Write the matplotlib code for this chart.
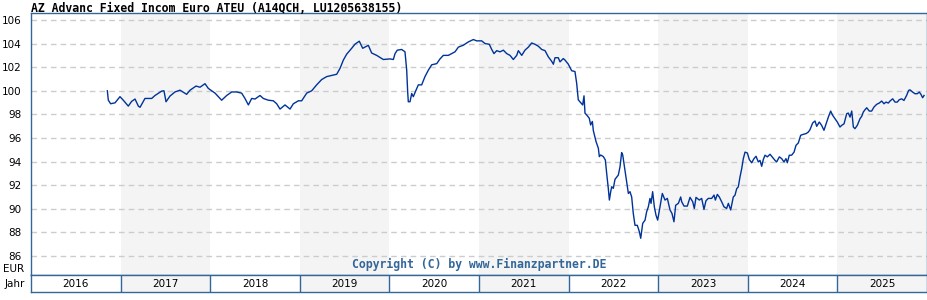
import matplotlib
matplotlib.use("Agg")
import matplotlib.pyplot as plt

# fund price in EUR, x as decimal year
years = [
    2016.852, 2016.863, 2016.889, 2016.938, 2016.993, 2017.030, 2017.086, 2017.123, 2017.161, 2017.198,
    2017.217, 2017.272, 2017.347, 2017.384, 2017.458, 2017.484, 2017.507, 2017.551, 2017.607, 2017.663,
    2017.737, 2017.775, 2017.842, 2017.886, 2017.942, 2017.979, 2018.016, 2018.054, 2018.091, 2018.128,
    2018.184, 2018.240, 2018.295, 2018.351, 2018.388, 2018.426, 2018.463, 2018.500, 2018.556, 2018.593,
    2018.649, 2018.705, 2018.742, 2018.779, 2018.835, 2018.891, 2018.928, 2018.984, 2019.021, 2019.077,
    2019.133, 2019.188, 2019.244, 2019.300, 2019.356, 2019.412, 2019.449, 2019.486, 2019.523, 2019.579,
    2019.616, 2019.664, 2019.702, 2019.765, 2019.802, 2019.858, 2019.932, 2020.007,
    2020.044, 2020.063, 2020.088, 2020.137, 2020.174, 2020.193, 2020.204, 2020.211, 2020.230, 2020.249,
    2020.267, 2020.297, 2020.323, 2020.360, 2020.397, 2020.435, 2020.472, 2020.528, 2020.565, 2020.602,
    2020.658, 2020.695, 2020.732, 2020.770, 2020.825, 2020.881, 2020.937, 2020.974, 2021.030, 2021.067,
    2021.115, 2021.142, 2021.167, 2021.198, 2021.234, 2021.272, 2021.309, 2021.346, 2021.383, 2021.421,
    2021.439, 2021.477, 2021.513, 2021.551, 2021.588, 2021.625, 2021.663, 2021.700, 2021.737, 2021.774,
    2021.811, 2021.830, 2021.848, 2021.885, 2021.904, 2021.941, 2021.960, 2021.997,
    2022.034, 2022.071, 2022.090, 2022.108, 2022.135, 2022.157, 2022.172, 2022.183, 2022.202, 2022.231,
    2022.246, 2022.265, 2022.276, 2022.306, 2022.332, 2022.343, 2022.358, 2022.388, 2022.410, 2022.425,
    2022.443, 2022.455, 2022.470, 2022.481, 2022.499, 2022.518, 2022.555, 2022.574, 2022.592, 2022.604,
    2022.629, 2022.648, 2022.667, 2022.685, 2022.704, 2022.722, 2022.741, 2022.767, 2022.790, 2022.805,
    2022.827, 2022.853, 2022.871, 2022.890, 2022.908, 2022.920, 2022.938, 2022.957, 2022.975, 2022.994,
    2023.020, 2023.046, 2023.076, 2023.102, 2023.132, 2023.154, 2023.176, 2023.195, 2023.225, 2023.251,
    2023.262, 2023.288, 2023.325, 2023.355, 2023.385, 2023.403, 2023.422, 2023.459, 2023.485, 2023.511,
    2023.533, 2023.559, 2023.597, 2023.623, 2023.638, 2023.660, 2023.682, 2023.708, 2023.734, 2023.764,
    2023.783, 2023.809,
    2023.820, 2023.838, 2023.857, 2023.876, 2023.894, 2023.913, 2023.932, 2023.950, 2023.969, 2023.995,
    2024.017, 2024.043, 2024.069, 2024.092, 2024.117, 2024.136, 2024.155, 2024.173, 2024.192, 2024.218,
    2024.248, 2024.278, 2024.304, 2024.322, 2024.352, 2024.378, 2024.404, 2024.426, 2024.441, 2024.463,
    2024.489, 2024.516, 2024.538, 2024.564, 2024.590, 2024.620, 2024.650, 2024.675, 2024.694, 2024.724,
    2024.750, 2024.769, 2024.798, 2024.824, 2024.850, 2024.880, 2024.899, 2024.925, 2024.947, 2024.973,
    2024.999, 2025.029, 2025.048, 2025.074, 2025.104, 2025.122, 2025.141, 2025.160, 2025.178, 2025.196,
    2025.222, 2025.252, 2025.271, 2025.289, 2025.308, 2025.327, 2025.356, 2025.382, 2025.408, 2025.438,
    2025.467, 2025.494, 2025.520, 2025.542, 2025.568, 2025.587, 2025.617, 2025.643, 2025.668, 2025.690,
    2025.717, 2025.743, 2025.772, 2025.795, 2025.810, 2025.840, 2025.866, 2025.891, 2025.914, 2025.933,
    2025.951, 2025.967,
]
prices = [
    100.0, 99.2, 98.9, 98.98, 99.5, 99.2, 98.7, 99.1, 99.3, 98.7,
    98.6, 99.35, 99.35, 99.6, 99.97, 100.0, 99.07, 99.55, 99.9, 100.05,
    99.7, 100.05, 100.4, 100.3, 100.6, 100.2, 100.0, 99.8, 99.5, 99.2,
    99.6, 99.9, 99.9, 99.8, 99.35, 98.8, 99.35, 99.3, 99.6, 99.35,
    99.2, 99.15, 98.9, 98.45, 98.8, 98.45, 98.9, 99.15, 99.15, 99.8,
    100.0, 100.5, 100.95, 101.2, 101.3, 101.4, 101.9, 102.6, 103.1, 103.6,
    103.95, 104.2, 103.6, 103.85, 103.2, 103.0, 102.65, 102.7,
    102.65, 103.15, 103.44, 103.5, 103.3, 101.75, 99.9, 99.07, 99.07, 99.77,
    99.5, 100.05, 100.5, 100.5, 101.2, 101.75, 102.2, 102.3, 102.7, 103.0,
    103.0, 103.15, 103.3, 103.7, 103.86, 104.14, 104.34, 104.23, 104.23, 104.0,
    103.94, 103.5, 103.15, 103.4, 103.3, 103.44, 103.15, 103.0, 102.65, 103.0,
    103.4, 103.0, 103.44, 103.7, 104.05, 103.94, 103.77, 103.5, 103.4, 102.87,
    102.5, 102.25, 102.8, 102.8, 102.45, 102.73, 102.6, 102.25,
    101.7, 101.63, 100.64, 99.23, 99.0, 98.8, 99.57, 98.1, 97.95, 97.67,
    97.1, 97.4, 96.63, 95.7, 95.13, 94.42, 94.56, 94.42, 94.14, 93.0,
    91.73, 90.74, 91.45, 91.87, 91.73, 92.5, 92.86, 93.57, 94.76, 94.56,
    93.29, 92.3, 91.3, 91.45, 91.0, 89.6, 88.6, 88.6, 88.05, 87.5,
    88.76, 89.04, 89.75, 90.17, 90.88, 90.46, 91.45, 90.17, 89.47, 89.04,
    90.17, 91.3, 90.74, 90.88, 89.9, 89.6, 88.9, 90.3, 90.46, 91.0,
    90.6, 90.23, 90.23, 90.97, 90.6, 90.03, 90.97, 90.74, 90.88, 89.95,
    90.68, 90.88, 90.88, 91.16, 90.74, 91.22, 91.0, 90.6, 90.17, 90.03,
    90.46, 89.9,
    90.3, 91.0, 91.15, 91.7, 91.86, 92.7, 93.4, 94.25, 94.8, 94.73,
    94.17, 93.9, 94.25, 94.45, 93.97, 94.1, 93.6, 94.17, 94.54, 94.4,
    94.62, 94.34, 94.1, 93.97, 94.4, 94.25, 93.97, 94.25, 93.9, 94.54,
    94.54, 94.8, 95.38, 95.58, 96.23, 96.31, 96.37, 96.5, 96.7, 97.27,
    97.44, 96.99, 97.35, 97.07, 96.65, 97.35, 97.77, 98.28, 97.92, 97.63,
    97.35, 96.93, 97.07, 97.2, 98.06, 98.11, 97.77, 98.28, 96.93, 96.79,
    97.07, 97.63, 97.83, 98.2, 98.39, 98.56, 98.28, 98.28, 98.62, 98.85,
    98.96, 99.13, 98.9, 99.04, 98.96, 99.13, 99.32, 99.04, 99.04, 99.24,
    99.32, 99.18, 99.6, 100.03, 100.08, 99.89, 99.75, 99.75, 99.89, 99.69,
    99.41, 99.6,
]

year_labels = ["2016", "2017", "2018", "2019", "2020", "2021", "2022", "2023", "2024", "2025"]
shaded_years = [2017, 2019, 2021, 2023, 2025]
y_ticks = [86, 88, 90, 92, 94, 96, 98, 100, 102, 104, 106]

title = "AZ Advanc Fixed Incom Euro ATEU (A14QCH, LU1205638155)"
border = "#336699"

fig = plt.figure(figsize=(9.28, 3.0), dpi=100)
ax = fig.add_axes([31 / 928, 25 / 300, 896 / 928, 262 / 300])
ax2 = fig.add_axes([31 / 928, 8 / 300, 896 / 928, 17 / 300])

for a in (ax, ax2):
    a.set_xlim(2016, 2026)
    for yr in shaded_years:
        a.axvspan(yr, yr + 1, color="#f4f4f4", lw=0, zorder=0)
    for s in a.spines.values():
        s.set_color(border)
        s.set_linewidth(1.0)
    a.set_xticks([])

ax.set_ylim(84.39, 106.59)
ax.set_yticks(y_ticks)
ax.set_yticklabels([str(t) for t in y_ticks], fontsize=7.5)
ax.tick_params(axis="y", length=0, pad=7)
for t in y_ticks:
    ax.axhline(t, color="#cccccc", lw=1.0, dashes=(4, 3), zorder=1)

ax.plot(years, prices, color="#003399", lw=1.0, zorder=3)

ax.text(0.5, 0.015, "Copyright (C) by www.Finanzpartner.DE", transform=ax.transAxes,
        ha="center", va="bottom", fontsize=8.3, family="DejaVu Sans Mono",
        weight="bold", color=border)

# year strip
ax2.set_ylim(0, 1)
ax2.set_yticks([])
for i, lab in enumerate(year_labels):
    yr = 2016 + i
    if i > 0:
        ax2.axvline(yr, color=border, lw=1.0)
    ax2.text(yr + 0.5, 0.45, lab, ha="center", va="center", fontsize=7.5)

fig.text(24 / 928, 1 - 269 / 300, "EUR", ha="right", va="center", fontsize=7.5)
fig.text(25 / 928, 1 - 284 / 300, "Jahr", ha="right", va="center", fontsize=7.5)
fig.text(31 / 928, 1 - 8.5 / 300, title, ha="left", va="center", fontsize=8.3,
         family="DejaVu Sans Mono", weight="bold")

fig.savefig("out.png", dpi=100)
